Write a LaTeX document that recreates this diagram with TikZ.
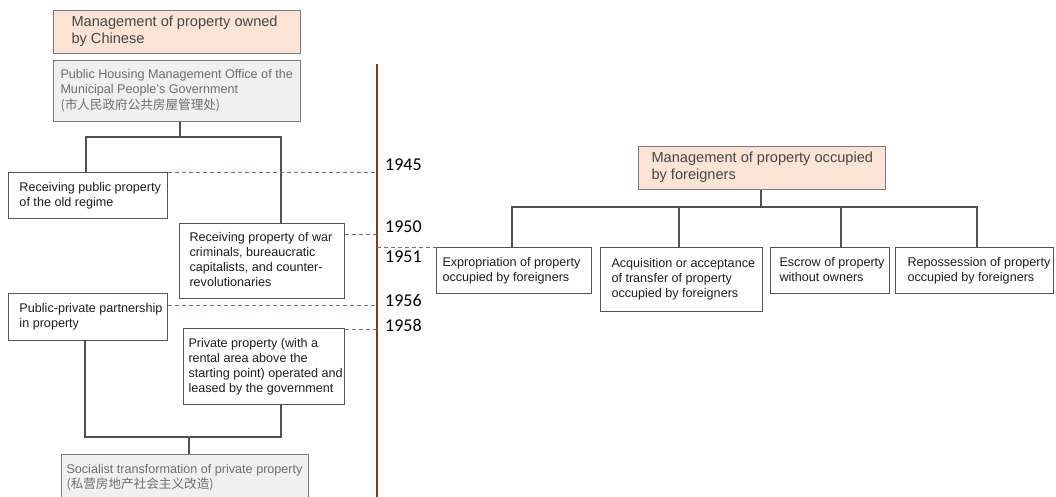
\documentclass[tikz,border=0pt]{standalone}
\usepackage{fontspec}
\setmainfont{Liberation Sans}
\newfontfamily\yearfont{Carlito}
\newfontfamily\cjk{Noto Sans CJK SC}
\definecolor{peach}{RGB}{251,228,214}
\definecolor{hbord}{RGB}{120,120,120}
\definecolor{htxt}{RGB}{70,70,70}
\definecolor{gfill}{RGB}{240,240,240}
\definecolor{gtxt}{RGB}{110,110,110}
\definecolor{bord}{RGB}{85,85,85}
\definecolor{txt}{RGB}{30,30,30}
\definecolor{lnc}{RGB}{80,80,80}
\definecolor{brownc}{RGB}{125,60,25}
\definecolor{dashc}{RGB}{140,105,85}
\newcommand{\bt}[3]{\makebox[#1][l]{\hspace*{#2}\begin{tabular}{@{}l@{}}#3\end{tabular}}}
\begin{document}
\begin{tikzpicture}[x=1pt,y=-1pt,
  box/.style={draw=bord, line width=1pt, fill=white, anchor=north west, inner sep=0pt, text=txt, font=\fontsize{12.6}{15}\selectfont},
  hdr/.style={box, fill=peach, draw=hbord, text=htxt, font=\fontsize{14.6}{17}\selectfont},
  greybox/.style={box, fill=gfill, draw=hbord, text=gtxt},
  conn/.style={draw=lnc, line width=1.1pt},
  timeline/.style={draw=brownc, line width=1.6pt},
  dl/.style={draw=dashc, line width=1pt, dash pattern=on 4pt off 3pt},
  yr/.style={anchor=west, inner sep=0pt, text=black, font=\yearfont\fontsize{18}{20}\selectfont}]
\useasboundingbox (0,0) rectangle (1056,496);
\clip (0,0) rectangle (1056,496);

% left column
\node[hdr, minimum width=247pt, minimum height=43pt] (headL) at (53,10)
  {\bt{247pt}{18pt}{Management of property owned\\by Chinese}};
\node[greybox, minimum width=247pt, minimum height=61pt] (gov) at (53,60)
  {\bt{247pt}{7pt}{Public Housing Management Office of the\\Municipal People's Government\\{\cjk (市人民政府公共房屋管理处)}}};
\node[box, minimum width=159pt, minimum height=46pt] (oldreg) at (8,172)
  {\bt{159pt}{11pt}{Receiving public property\\of the old regime}};
\node[box, minimum width=165pt, minimum height=75pt] (war) at (179,223)
  {\bt{165pt}{10pt}{Receiving property of war\\criminals, bureaucratic\\capitalists, and counter-\\revolutionaries}};
\node[box, minimum width=159pt, minimum height=47pt] (ppp) at (8,293)
  {\bt{159pt}{11pt}{Public-private partnership\\in property}};
\node[box, minimum width=161pt, minimum height=76pt] (priv) at (183,328)
  {\bt{161pt}{5pt}{Private property (with a\\rental area above the\\starting point) operated and\\leased by the government}};
\node[greybox, minimum width=247pt, minimum height=47pt] (soc) at (61,454)
  {\bt{247pt}{5pt}{Socialist transformation of private property\\{\cjk (私营房地产社会主义改造)}}};

% left connectors
\coordinate (jA) at (86,137);
\coordinate (jB) at (180,137);
\coordinate (jC) at (281,137);
\draw[conn] (gov.south -| jB) -- (jB);
\draw[conn] (oldreg.north -| jA) -- (jA) -- (jC) -- (war.north -| jC);
\coordinate (kA) at (85,437);
\coordinate (kB) at (189,437);
\coordinate (kC) at (281,437);
\draw[conn] (ppp.south -| kA) -- (kA) -- (kC) -- (priv.south -| kC);
\draw[conn] (kB) -- (soc.north -| kB);

% timeline
\coordinate (tTop) at (377,64);
\coordinate (tBot) at (377,497);
\draw[timeline] (tTop) -- (tBot);

% years
\node[yr] (y45) at (385,165) {1945};
\node[yr] (y50) at (385,227) {1950};
\node[yr] (y51) at (385,257) {1951};
\node[yr] (y56) at (385,300) {1956};
\node[yr] (y58) at (385,325) {1958};

% right column
\node[hdr, minimum width=247pt, minimum height=43pt] (headR) at (638,146)
  {\bt{247pt}{13pt}{Management of property occupied\\by foreigners}};
\node[box, minimum width=155pt, minimum height=46pt] (expr) at (436,247)
  {\bt{155pt}{6pt}{Expropriation of property\\occupied by foreigners}};
\node[box, minimum width=162pt, minimum height=64pt] (acq) at (600,247)
  {\bt{162pt}{11pt}{Acquisition or acceptance\\of transfer of property\\occupied by foreigners}};
\node[box, minimum width=119pt, minimum height=46pt] (esc) at (770,247)
  {\bt{119pt}{9pt}{Escrow of property\\without owners}};
\node[box, minimum width=158pt, minimum height=46pt] (repo) at (895,247)
  {\bt{158pt}{12pt}{Repossession of property\\occupied by foreigners}};

\coordinate (rJ) at (761,207);
\coordinate (r1) at (512,207);
\coordinate (r2) at (679,207);
\coordinate (r3) at (841,207);
\coordinate (r4) at (977,207);
\draw[conn] (headR.south -| rJ) -- (rJ);
\draw[conn] (expr.north -| r1) -- (r1) -- (r4) -- (repo.north -| r4);
\draw[conn] (acq.north -| r2) -- (r2);
\draw[conn] (esc.north -| r3) -- (r3);

% dashed year links
\draw[dl] (oldreg.north east) -- (oldreg.north east -| tTop);
\coordinate (d50) at ([yshift=-11pt]war.north east);
\draw[dl] (d50) -- (d50 -| tTop);
\draw[dl] (expr.north west -| tTop) -- (expr.north west);
\coordinate (d56) at ([yshift=-12pt]ppp.north east);
\draw[dl] (d56) -- (d56 -| tTop);
\coordinate (d58) at ([yshift=-1pt]priv.north east);
\draw[dl] (d58) -- (d58 -| tTop);
\end{tikzpicture}
\end{document}
